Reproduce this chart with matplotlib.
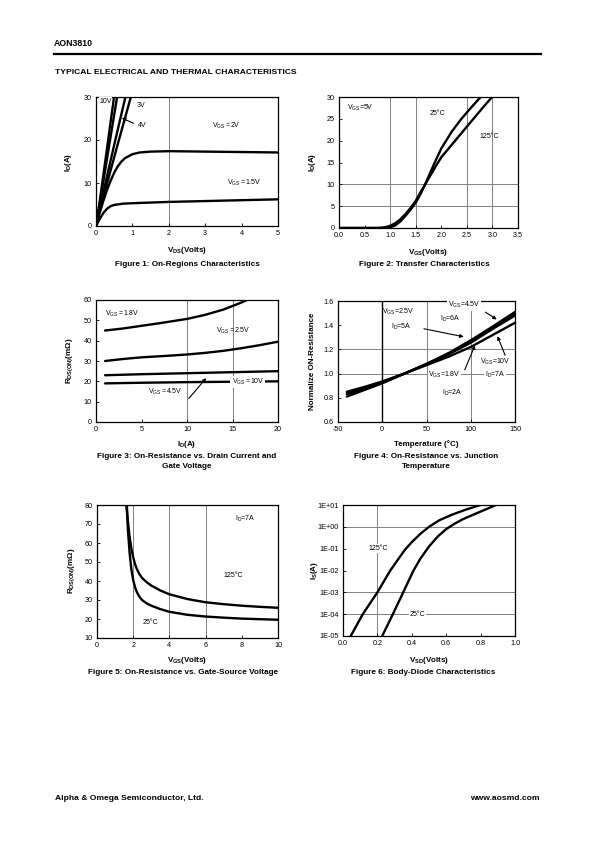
import matplotlib
matplotlib.use('Agg')
import matplotlib.pyplot as plt
import numpy as np
from matplotlib.ticker import FuncFormatter, FixedLocator, NullLocator

plt.rcParams['font.family'] = ['Liberation Sans', 'DejaVu Sans']
plt.rcParams['mathtext.fontset'] = 'custom'
plt.rcParams['mathtext.rm'] = 'Liberation Sans'
plt.rcParams['mathtext.bf'] = 'Liberation Sans:bold'
plt.rcParams['mathtext.it'] = 'Liberation Sans:italic'
plt.rcParams['mathtext.default'] = 'regular'
plt.rcParams['axes.unicode_minus'] = False

# ---------------- Figure 1: On-Regions Characteristics ----------------
f1_vds_10v = [0, 0.1, 0.2, 0.3, 0.4, 0.5]
f1_id_10v = [0, 5.6, 11.7, 17.9, 24.1, 30.3]
f1_vds_45v = [0, 0.1, 0.2, 0.3, 0.4, 0.5, 0.59]
f1_id_45v = [0, 5.0, 10.3, 15.5, 20.7, 25.9, 30.5]
f1_vds_4v = [0, 0.1, 0.2, 0.4, 0.6, 0.8, 0.82]
f1_id_4v = [0, 4.0, 7.8, 15.2, 22.5, 29.7, 30.4]
f1_vds_3v = [0, 0.1, 0.2, 0.4, 0.6, 0.8, 0.96]
f1_id_3v = [0, 3.4, 6.6, 12.9, 19.1, 25.2, 30.1]
f1_vds_2v = [0, 0.1, 0.2, 0.3, 0.4, 0.5, 0.6, 0.7, 0.8, 1.0, 1.2, 1.5, 2.0, 3.0, 4.0, 5.0]
f1_id_2v = [0, 3.0, 5.8, 8.3, 10.5, 12.4, 13.9, 15.0, 15.8, 16.7, 17.1, 17.3, 17.4, 17.3, 17.2, 17.1]
f1_vds_15v = [0, 0.1, 0.2, 0.3, 0.4, 0.5, 0.75, 1.0, 2.0, 3.0, 4.0, 5.0]
f1_id_15v = [0, 1.6, 3.0, 4.0, 4.6, 4.9, 5.2, 5.3, 5.6, 5.8, 6.0, 6.2]

# ---------------- Figure 2: Transfer Characteristics ----------------
f2_vgs_25 = [0.0, 0.8, 0.9, 1.0, 1.1, 1.2, 1.3, 1.4, 1.5, 1.6, 1.7, 1.8, 1.9, 2.0, 2.2, 2.4, 2.6, 2.77]
f2_id_25 = [0, 0, 0.03, 0.15, 0.6, 1.5, 2.8, 4.2, 5.8, 7.9, 10.4, 13.1, 15.7, 18.2, 22.0, 25.1, 27.8, 30.0]
f2_vgs_125 = [0.0, 0.7, 0.8, 0.9, 1.0, 1.1, 1.2, 1.3, 1.4, 1.5, 1.6, 1.7, 1.8, 1.9, 2.0, 2.2, 2.4, 2.6, 2.8, 3.0]
f2_id_125 = [0, 0, 0.03, 0.15, 0.5, 1.1, 2.0, 3.2, 4.6, 6.2, 8.3, 10.3, 12.3, 14.3, 16.2, 19.0, 21.8, 24.6, 27.4, 30.1]

# ---------------- Figure 3: RDS(ON) vs ID ----------------
f3_id_18 = [1, 3, 5, 7, 9, 10, 12, 14, 16, 17]
f3_r_18 = [45, 46, 47.3, 48.6, 50, 50.7, 52.7, 55.3, 58.8, 60.8]
f3_id_25 = [1, 3, 5, 8, 10, 12, 14, 16, 18, 20]
f3_r_25 = [30, 31, 31.8, 32.6, 33.2, 34, 35, 36.3, 37.8, 39.5]
f3_id_45 = [1, 5, 10, 15, 20]
f3_r_45 = [23, 23.5, 24, 24.5, 25]
f3_id_10 = [1, 5, 10, 15, 20]
f3_r_10 = [19, 19.3, 19.6, 19.8, 20]

# ---------------- Figure 4: Normalized RDS(ON) vs Temperature ----------------
f4_temp = [-40, -20, 0, 25, 50, 75, 100, 125, 150]
f4_r_45v_6a = [0.84, 0.885, 0.93, 1.0, 1.08, 1.17, 1.275, 1.39, 1.51]
f4_r_25v_5a = [0.83, 0.878, 0.925, 1.0, 1.08, 1.165, 1.265, 1.38, 1.49]
f4_r_18v_2a = [0.81, 0.865, 0.92, 1.0, 1.075, 1.16, 1.255, 1.37, 1.48]
f4_r_10v_7a = [0.85, 0.89, 0.935, 1.0, 1.07, 1.14, 1.22, 1.32, 1.42]

# ---------------- Figure 5: RDS(ON) vs VGS ----------------
f5_vgs_25 = [1.65, 1.7, 1.8, 1.9, 2.0, 2.1, 2.2, 2.35, 2.5, 2.75, 3, 3.5, 4, 5, 6, 7, 8, 9, 10]
f5_r_25 = [80, 68, 55, 46, 40.5, 36.8, 34.2, 31.6, 29.9, 28.2, 27, 25.2, 23.8, 22.2, 21.3, 20.7, 20.2, 19.9, 19.6]
f5_vgs_125 = [1.62, 1.7, 1.8, 1.9, 2.0, 2.1, 2.2, 2.35, 2.5, 2.75, 3, 3.5, 4, 5, 6, 7, 8, 9, 10]
f5_r_125 = [80, 72, 63.5, 57, 52.5, 49, 46.3, 43.5, 41.5, 39.3, 37.6, 35, 33, 30.5, 28.8, 27.8, 27, 26.4, 25.9]

# ---------------- Figure 6: Body-Diode Characteristics ----------------
f6_vsd_125 = [0.045, 0.115, 0.2, 0.275, 0.32, 0.36, 0.40, 0.45, 0.50, 0.56, 0.63, 0.71, 0.80]
f6_is_125 = [1e-5, 1e-4, 1e-3, 1e-2, 0.032, 0.089, 0.2, 0.48, 1.0, 2.0, 3.5, 6.0, 10.0]
f6_vsd_25 = [0.228, 0.29, 0.35, 0.41, 0.45, 0.50, 0.55, 0.60, 0.65, 0.70, 0.80, 0.89]
f6_is_25 = [1e-5, 1e-4, 1e-3, 1e-2, 0.035, 0.126, 0.355, 0.79, 1.41, 2.3, 5.0, 10.0]

W, H = 595, 842
fig = plt.figure(figsize=(W / 100, H / 100), dpi=100)
GRID = '#808080'
LW = 1.7
TICK_FS = 5.2
ANN_FS = 5.0
LAB_FS = 5.8
CAP_FS = 5.9


def ax_at(l, t, r, b):
    ax = fig.add_axes([l / W, 1 - b / H, (r - l) / W, (b - t) / H])
    for s in ax.spines.values():
        s.set_linewidth(0.9)
        s.set_color('black')
    ax.tick_params(direction='in', length=2, width=0.6, labelsize=TICK_FS, pad=3)
    return ax


def ftext(x, y, s, **kw):
    fig.text(x / W, 1 - y / H, s, **kw)


def curve(ax, x, y):
    ax.plot(x, y, color='black', lw=LW, solid_capstyle='round', solid_joinstyle='round')


# Header
ftext(54, 43, 'AON3810', fontsize=6.3, fontweight='bold', va='center')
fig.add_artist(plt.Line2D([54 / W, 541 / W], [1 - 53.5 / H, 1 - 53.5 / H], color='black', lw=1.6))
ftext(55, 72, 'TYPICAL ELECTRICAL AND THERMAL CHARACTERISTICS', fontsize=6.1, fontweight='bold', va='center')
# Footer
ftext(55, 798, 'Alpha & Omega Semiconductor, Ltd.', fontsize=6.1, fontweight='bold', va='center')
ftext(540, 798, 'www.aosmd.com', fontsize=6.1, fontweight='bold', va='center', ha='right')

# ---------- Fig 1 ----------
ax1 = ax_at(96, 97, 278, 226)
ax1.axvline(2, color=GRID, lw=0.7, zorder=0)
for x, y in [(f1_vds_10v, f1_id_10v), (f1_vds_45v, f1_id_45v), (f1_vds_4v, f1_id_4v),
             (f1_vds_3v, f1_id_3v), (f1_vds_2v, f1_id_2v), (f1_vds_15v, f1_id_15v)]:
    curve(ax1, x, y)
ax1.set_xlim(0, 5)
ax1.set_ylim(0, 30)
ax1.set_xticks(range(0, 6))
ax1.set_yticks([0, 10, 20, 30])
ax1.text(0.1, 29.0, '10V', fontsize=ANN_FS, va='center',
         bbox=dict(facecolor='white', edgecolor='none', pad=0.3))
ax1.text(1.12, 28.0, '3V', fontsize=ANN_FS, va='center')
ax1.text(1.15, 23.4, '4V', fontsize=ANN_FS, va='center')
ax1.annotate('', xy=(0.64, 25.4), xytext=(1.1, 23.6),
             arrowprops=dict(arrowstyle='-|>', color='black', lw=0.8, mutation_scale=5))
ax1.text(3.2, 23.2, 'V$_{GS}$ =2V', fontsize=ANN_FS, va='center')
ax1.text(3.6, 10.1, 'V$_{GS}$ =1.5V', fontsize=ANN_FS, va='center')
ftext(187, 250, 'V$_{DS}$(Volts)', fontsize=LAB_FS, fontweight='bold', ha='center', va='center')
ftext(69, 162, 'I$_D$(A)', fontsize=LAB_FS, fontweight='bold', ha='center', va='center', rotation=90)
ftext(187, 264, 'Figure 1: On-Regions Characteristics', fontsize=CAP_FS, fontweight='bold', ha='center', va='center')

# ---------- Fig 2 ----------
ax2 = ax_at(339, 97, 518, 228)
for xv in [1.0, 1.5, 2.5, 3.0]:
    ax2.axvline(xv, color=GRID, lw=0.7, zorder=0)
for yv in [5, 10]:
    ax2.axhline(yv, color=GRID, lw=0.7, zorder=0)
curve(ax2, f2_vgs_25, f2_id_25)
curve(ax2, f2_vgs_125, f2_id_125)
ax2.set_xlim(0, 3.5)
ax2.set_ylim(0, 30)
ax2.set_xticks(np.arange(0, 3.51, 0.5))
ax2.xaxis.set_major_formatter(FuncFormatter(lambda v, p: '%.1f' % v))
ax2.set_yticks(range(0, 31, 5))
ax2.text(0.15, 27.5, 'V$_{GS}$=5V', fontsize=ANN_FS, va='center')
ax2.text(1.78, 26.3, '25°C', fontsize=ANN_FS, va='center')
ax2.text(2.75, 21.0, '125°C', fontsize=ANN_FS, va='center')
ftext(428, 252, 'V$_{GS}$(Volts)', fontsize=LAB_FS, fontweight='bold', ha='center', va='center')
ftext(313, 162, 'I$_D$(A)', fontsize=LAB_FS, fontweight='bold', ha='center', va='center', rotation=90)
ftext(424, 264, 'Figure 2: Transfer Characteristics', fontsize=CAP_FS, fontweight='bold', ha='center', va='center')

# ---------- Fig 3 ----------
ax3 = ax_at(96, 300, 278, 422)
for xv in [10, 15]:
    ax3.axvline(xv, color=GRID, lw=0.7, zorder=0)
for x, y in [(f3_id_18, f3_r_18), (f3_id_25, f3_r_25), (f3_id_45, f3_r_45), (f3_id_10, f3_r_10)]:
    curve(ax3, x, y)
ax3.set_xlim(0, 20)
ax3.set_ylim(0, 60)
ax3.set_xticks(range(0, 21, 5))
ax3.set_yticks(range(0, 61, 10))
ax3.text(1.0, 53, 'V$_{GS}$ =1.8V', fontsize=ANN_FS, va='center')
ax3.text(13.2, 44.7, 'V$_{GS}$ =2.5V', fontsize=ANN_FS, va='center')
ax3.text(5.7, 14.8, 'V$_{GS}$ =4.5V', fontsize=ANN_FS, va='center')
ax3.text(14.9, 19.7, 'V$_{GS}$ =10V', fontsize=ANN_FS, va='center',
         bbox=dict(facecolor='white', edgecolor='none', pad=0.8))
ax3.annotate('', xy=(12.3, 22.6), xytext=(10.0, 10.5),
             arrowprops=dict(arrowstyle='-|>', color='black', lw=0.8, mutation_scale=5))
ftext(187, 444, 'I$_D$(A)', fontsize=LAB_FS, fontweight='bold', ha='center', va='center')
ftext(70, 361, 'R$_{DS(ON)}$(mΩ)', fontsize=LAB_FS, fontweight='bold', ha='center', va='center', rotation=90)
ftext(187, 456, 'Figure 3: On-Resistance vs. Drain Current and', fontsize=CAP_FS, fontweight='bold', ha='center', va='center')
ftext(187, 467, 'Gate Voltage', fontsize=CAP_FS, fontweight='bold', ha='center', va='center')

# ---------- Fig 4 ----------
ax4 = ax_at(338, 301, 515, 422)
for xv in [50, 100]:
    ax4.axvline(xv, color=GRID, lw=0.7, zorder=0)
for yv in [1.0, 1.2]:
    ax4.axhline(yv, color=GRID, lw=0.7, zorder=0)
ax4.axvline(0, color='black', lw=1.0, zorder=1)
for y in [f4_r_45v_6a, f4_r_25v_5a, f4_r_18v_2a, f4_r_10v_7a]:
    curve(ax4, f4_temp, y)
ax4.set_xlim(-50, 150)
ax4.set_ylim(0.6, 1.6)
ax4.set_xticks(range(-50, 151, 50))
ax4.set_yticks(np.arange(0.6, 1.61, 0.2))
ax4.yaxis.set_major_formatter(FuncFormatter(lambda v, p: '%.1f' % v))
ax4.text(74, 1.565, 'V$_{GS}$=4.5V', fontsize=ANN_FS, va='center', zorder=5,
         bbox=dict(facecolor='white', edgecolor='none', pad=0.8), clip_on=False)
ax4.text(-0.5, 1.51, 'V$_{GS}$=2.5V', fontsize=ANN_FS, va='center')
ax4.text(65, 1.45, 'I$_D$=6A', fontsize=ANN_FS, va='center')
ax4.text(10, 1.385, 'I$_D$=5A', fontsize=ANN_FS, va='center')
ax4.text(110, 1.10, 'V$_{GS}$=10V', fontsize=ANN_FS, va='center',
         bbox=dict(facecolor='white', edgecolor='none', pad=0.5))
ax4.text(52, 0.99, 'V$_{GS}$=1.8V', fontsize=ANN_FS, va='center',
         bbox=dict(facecolor='white', edgecolor='none', pad=0.5))
ax4.text(116, 0.99, 'I$_D$=7A', fontsize=ANN_FS, va='center',
         bbox=dict(facecolor='white', edgecolor='none', pad=0.5))
ax4.text(67, 0.84, 'I$_D$=2A', fontsize=ANN_FS, va='center')
arr = dict(arrowstyle='-|>', color='black', lw=0.8, mutation_scale=5)
ax4.annotate('', xy=(132, 1.435), xytext=(114, 1.52), arrowprops=arr)
ax4.annotate('', xy=(95, 1.30), xytext=(44, 1.375), arrowprops=arr)
ax4.annotate('', xy=(106, 1.255), xytext=(92, 1.01), arrowprops=arr)
ax4.annotate('', xy=(129, 1.33), xytext=(140, 1.13), arrowprops=arr)
ftext(426, 444, 'Temperature (°C)', fontsize=LAB_FS, fontweight='bold', ha='center', va='center')
ftext(312, 361, 'Normalize ON-Resistance', fontsize=LAB_FS, fontweight='bold', ha='center', va='center', rotation=90)
ftext(426, 456, 'Figure 4: On-Resistance vs. Junction', fontsize=CAP_FS, fontweight='bold', ha='center', va='center')
ftext(426, 467, 'Temperature', fontsize=CAP_FS, fontweight='bold', ha='center', va='center')

# ---------- Fig 5 ----------
ax5 = ax_at(97, 505, 278, 638)
for xv in [2, 4, 6]:
    ax5.axvline(xv, color=GRID, lw=0.7, zorder=0)
curve(ax5, f5_vgs_25, f5_r_25)
curve(ax5, f5_vgs_125, f5_r_125)
ax5.set_xlim(0, 10)
ax5.set_ylim(10, 80)
ax5.set_xticks(range(0, 11, 2))
ax5.set_yticks(range(10, 81, 10))
ax5.text(7.65, 72.6, 'I$_D$=7A', fontsize=ANN_FS, va='center')
ax5.text(7.0, 43, '125°C', fontsize=ANN_FS, va='center')
ax5.text(2.5, 18, '25°C', fontsize=ANN_FS, va='center')
ftext(187, 660, 'V$_{GS}$(Volts)', fontsize=LAB_FS, fontweight='bold', ha='center', va='center')
ftext(72, 571, 'R$_{DS(ON)}$(mΩ)', fontsize=LAB_FS, fontweight='bold', ha='center', va='center', rotation=90)
ftext(183, 673, 'Figure 5: On-Resistance vs. Gate-Source Voltage', fontsize=CAP_FS, fontweight='bold', ha='center', va='center')

# ---------- Fig 6 ----------
ax6 = ax_at(343, 505, 515, 636)
ax6.set_yscale('log')
ax6.axvline(0.2, color=GRID, lw=0.7, zorder=0)
for yv in [1e0, 1e-3, 1e-4]:
    ax6.axhline(yv, color=GRID, lw=0.7, zorder=0)
curve(ax6, f6_vsd_125, f6_is_125)
curve(ax6, f6_vsd_25, f6_is_25)
ax6.set_xlim(0, 1.0)
ax6.set_ylim(1e-5, 1e1)
ax6.set_xticks(np.arange(0, 1.01, 0.2))
ax6.xaxis.set_major_formatter(FuncFormatter(lambda v, p: '%.1f' % v))
ax6.yaxis.set_major_locator(FixedLocator([1e-5, 1e-4, 1e-3, 1e-2, 1e-1, 1e0, 1e1]))
ax6.yaxis.set_minor_locator(NullLocator())
ax6.yaxis.set_major_formatter(FuncFormatter(lambda v, p: '1E%+03d' % int(round(np.log10(v)))))
ax6.text(0.146, 0.1, '125°C', fontsize=ANN_FS, va='center',
         bbox=dict(facecolor='white', edgecolor='none', pad=0.5))
ax6.text(0.39, 1e-4, '25°C', fontsize=ANN_FS, va='center',
         bbox=dict(facecolor='white', edgecolor='none', pad=0.5))
ftext(429, 660, 'V$_{SD}$(Volts)', fontsize=LAB_FS, fontweight='bold', ha='center', va='center')
ftext(314, 571, 'I$_S$(A)', fontsize=LAB_FS, fontweight='bold', ha='center', va='center', rotation=90)
ftext(423, 672, 'Figure 6: Body-Diode Characteristics', fontsize=CAP_FS, fontweight='bold', ha='center', va='center')

fig.savefig('out.png', dpi=100)
